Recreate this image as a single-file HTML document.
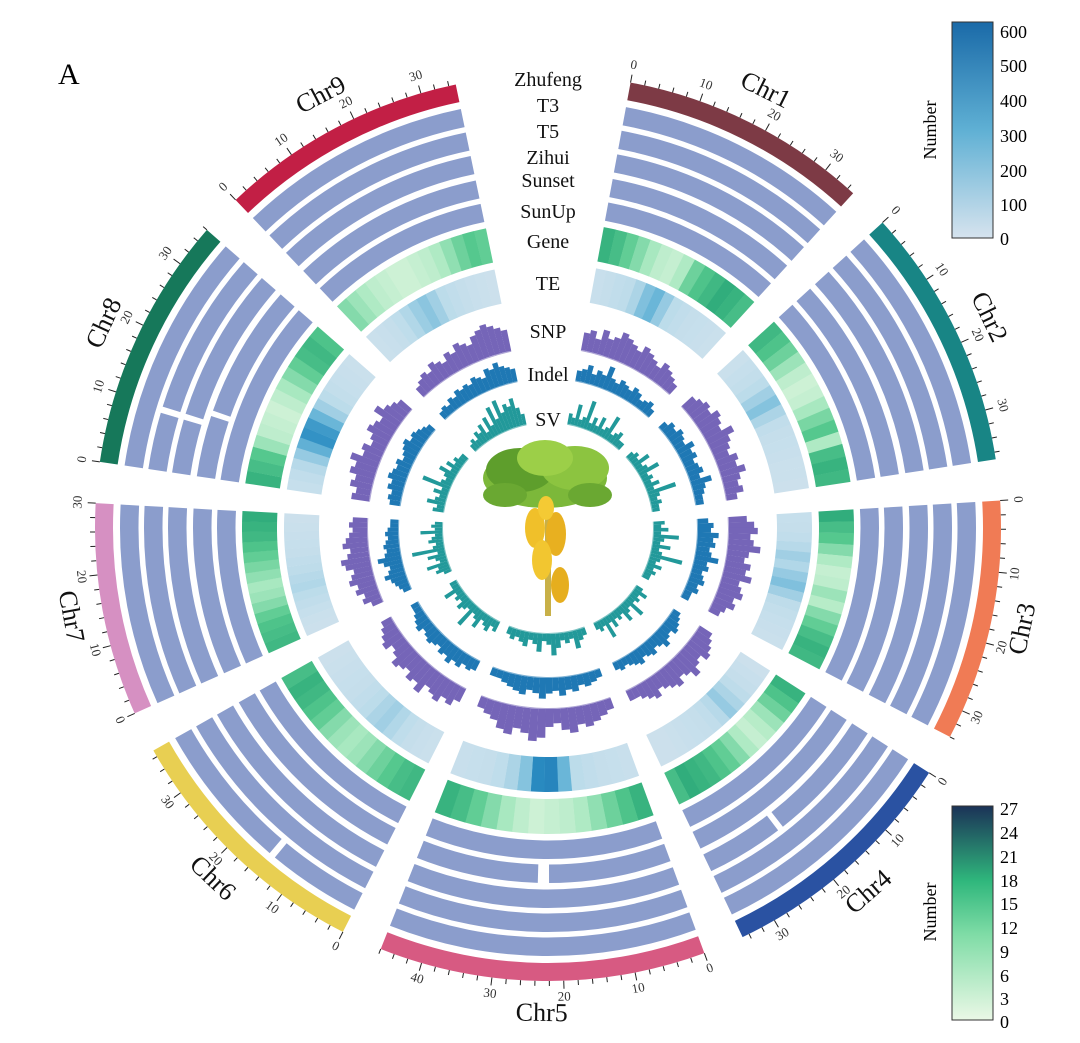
<!DOCTYPE html>
<html><head><meta charset="utf-8">
<style>
html,body{margin:0;padding:0;background:#fff;}
svg{display:block;font-family:"Liberation Serif",serif;}
</style></head>
<body>
<svg id="chart" width="1080" height="1043" viewBox="0 0 1080 1043" xmlns="http://www.w3.org/2000/svg">
<defs>
<linearGradient id="teGrad" x1="0" y1="1" x2="0" y2="0">
<stop offset="0" stop-color="#d6e3ee"/><stop offset="0.5" stop-color="#5fb0d4"/><stop offset="1" stop-color="#1a6aa8"/></linearGradient>
<linearGradient id="geneGrad" x1="0" y1="1" x2="0" y2="0">
<stop offset="0" stop-color="#eaf8e6"/><stop offset="0.4" stop-color="#7fdca6"/><stop offset="0.65" stop-color="#2fb77c"/><stop offset="1" stop-color="#1b3257"/></linearGradient>
</defs>
<text x="58" y="84" font-size="30">A</text>
<g id="rings"></g>
<g id="labels" font-size="20" text-anchor="middle" fill="#111">
<text x="548" y="86">Zhufeng</text>
<text x="548" y="112">T3</text>
<text x="548" y="138">T5</text>
<text x="548" y="164">Zihui</text>
<text x="548" y="187">Sunset</text>
<text x="548" y="218">SunUp</text>
<text x="548" y="248">Gene</text>
<text x="548" y="290">TE</text>
<text x="548" y="338">SNP</text>
<text x="548" y="381">Indel</text>
<text x="548" y="426">SV</text>
</g>
<g id="tree">
<rect x="545" y="490" width="6" height="126" fill="#c8b048"/>
<ellipse cx="545" cy="478" rx="62" ry="30" fill="#7cb83a"/>
<ellipse cx="520" cy="470" rx="34" ry="22" fill="#5e9e2c"/>
<ellipse cx="575" cy="468" rx="34" ry="22" fill="#8cc440"/>
<ellipse cx="545" cy="458" rx="28" ry="18" fill="#9ccf48"/>
<ellipse cx="505" cy="495" rx="22" ry="12" fill="#6aa832"/>
<ellipse cx="590" cy="495" rx="22" ry="12" fill="#6aa832"/>
<ellipse cx="535" cy="528" rx="10" ry="20" fill="#f0c02a"/>
<ellipse cx="556" cy="534" rx="10" ry="22" fill="#e8b020"/>
<ellipse cx="542" cy="560" rx="10" ry="20" fill="#f2c630"/>
<ellipse cx="560" cy="585" rx="9" ry="18" fill="#e6ae1e"/>
<ellipse cx="546" cy="508" rx="8" ry="12" fill="#f4ca34"/>
</g>
<g id="legend-te" font-size="18">
<rect x="952" y="22" width="41" height="216" fill="url(#teGrad)" stroke="#333" stroke-width="1"/>
<text x="1000" y="38">600</text><text x="1000" y="72">500</text><text x="1000" y="107">400</text>
<text x="1000" y="142">300</text><text x="1000" y="177">200</text><text x="1000" y="211">100</text><text x="1000" y="245">0</text>
<text transform="translate(936,130) rotate(-90)" text-anchor="middle">Number</text>
</g>
<g id="legend-gene" font-size="18">
<rect x="952" y="806" width="41" height="214" fill="url(#geneGrad)" stroke="#333" stroke-width="1"/>
<text x="1000" y="815">27</text><text x="1000" y="839">24</text><text x="1000" y="863">21</text>
<text x="1000" y="887">18</text><text x="1000" y="910">15</text><text x="1000" y="934">12</text>
<text x="1000" y="958">9</text><text x="1000" y="982">6</text><text x="1000" y="1005">3</text><text x="1000" y="1028">0</text>
<text transform="translate(936,912) rotate(-90)" text-anchor="middle">Number</text>
</g>
</svg>
<script>
const chrNames=["Chr1","Chr2","Chr3","Chr4","Chr5","Chr6","Chr7","Chr8","Chr9"];
const chrLengths=[35,37,34,35,46,37,30,36,35];
const chrColors=["#7d3a45","#188585","#f07b55","#2a52a2","#d75a82","#e8cf52","#d690c2","#16785a","#c21f45"];
const ringGaps=[[7,1,9,10],[7,2,9,10],[7,3,11,12],[4,3,22,24],[3,2,21,22],[5,0,14,15]];
const geneDensity=[
[20,18,15,12,9,6,5,8,14,17,19,21,20,18],
[19,17,14,10,6,4,5,9,13,16,8,18,20,19],
[21,18,16,12,8,5,6,10,7,12,15,18,20,19],
[20,17,14,10,7,5,8,12,15,17,19,20,21,18],
[20,17,14,11,8,6,5,4,6,9,12,15,18,20],
[19,18,16,14,12,10,9,10,12,15,17,19,20,18],
[19,18,17,15,12,10,9,11,13,15,17,19,20,21],
[20,18,16,10,6,5,4,6,9,12,15,18,19,17],
[12,10,8,6,5,4,4,5,6,8,11,14,16,15]];
const teDensity=[
[80,100,120,140,180,260,300,220,150,120,100,90,80,70],
[70,90,110,150,200,250,180,120,100,90,80,70,70,60],
[90,100,120,160,200,170,220,260,200,140,110,90,80,70],
[60,80,100,140,180,220,160,120,100,90,80,70,60,60],
[80,90,100,120,150,300,480,460,250,180,130,100,90,80],
[70,80,100,130,170,200,180,150,120,100,90,80,70,60],
[60,70,90,120,150,170,160,140,120,100,90,80,70,60],
[90,120,160,220,320,430,400,300,200,150,110,90,80,70],
[70,80,100,130,170,210,240,200,150,120,100,80,70,60]];
const snpValues=[
[.5,.6,.4,.7,.5,.6,.8,.7,.6,.5,.7,.6,.5,.4,.6,.5,.4,.3],
[.4,.5,.6,.5,.7,.6,.5,.8,.6,.5,.4,.6,.5,.7,.5,.4,.5,.3],
[.5,.7,.8,.6,.7,.9,.6,.5,.7,.6,.8,.5,.6,.7,.5,.6,.4,.3],
[.4,.5,.6,.7,.5,.6,.8,.6,.5,.7,.6,.5,.4,.6,.5,.4,.3,.3],
[.3,.4,.5,.6,.5,.7,.6,.4,.5,.8,.9,.7,.6,.8,.7,.5,.4,.3],
[.4,.6,.5,.7,.6,.5,.8,.6,.7,.5,.6,.7,.5,.4,.6,.5,.4,.3],
[.3,.5,.4,.6,.5,.7,.6,.5,.7,.8,.6,.5,.7,.6,.5,.4,.5,.4],
[.5,.4,.6,.5,.7,.6,.8,.5,.6,.4,.5,.7,.6,.5,.8,.6,.5,.4],
[.3,.4,.5,.4,.6,.5,.4,.6,.5,.7,.6,.5,.7,.8,.9,.8,.7,.6]];
const indelValues=[
[.4,.5,.7,.4,.6,.5,.9,.5,.4,.6,.5,.4,.6,.5,.3,.4,.5,.3],
[.3,.5,.4,.6,.5,.4,.7,.5,.6,.4,.5,.6,.4,.8,.5,.4,.3,.3],
[.4,.6,.5,.8,.6,.7,.5,.6,.9,.5,.6,.4,.5,.6,.4,.5,.3,.3],
[.3,.4,.5,.6,.4,.5,.7,.5,.4,.6,.5,.4,.6,.5,.4,.3,.4,.3],
[.3,.4,.5,.4,.6,.5,.7,.5,.6,.8,.6,.5,.7,.6,.5,.4,.3,.3],
[.4,.5,.4,.6,.5,.7,.5,.6,.4,.5,.6,.5,.4,.6,.5,.4,.3,.3],
[.3,.4,.5,.6,.8,.6,.5,.7,.9,.6,.5,.6,.5,.4,.5,.4,.3,.3],
[.4,.5,.4,.6,.5,.7,.6,.5,.6,.4,.5,.6,.7,.5,.6,.5,.4,.3],
[.3,.4,.3,.5,.4,.6,.5,.6,.5,.7,.6,.5,.8,.7,.9,.7,.6,.5]];
const svValues=[
[.3,.2,.6,.2,.3,.8,.2,.4,.2,.5,.2,.3,.7,.2,.3,.4,.2,.2],
[.2,.3,.2,.5,.2,.3,.6,.2,.3,.2,.4,.2,.8,.3,.2,.3,.2,.2],
[.3,.2,.4,.2,.7,.3,.2,.5,.2,.3,.9,.3,.2,.4,.2,.3,.2,.2],
[.2,.4,.2,.3,.2,.6,.2,.3,.5,.2,.3,.2,.4,.2,.6,.2,.3,.2],
[.2,.3,.5,.2,.3,.2,.4,.6,.3,.2,.5,.3,.2,.4,.3,.2,.3,.2],
[.3,.2,.4,.3,.2,.5,.3,.2,.7,.2,.3,.4,.2,.3,.2,.5,.2,.2],
[.2,.4,.3,.6,.2,.3,.5,.2,.9,.3,.2,.4,.3,.2,.6,.2,.3,.2],
[.3,.2,.5,.3,.2,.4,.2,.8,.3,.2,.3,.5,.2,.4,.2,.3,.2,.2],
[.2,.3,.2,.4,.3,.5,.2,.6,.3,.8,.4,.9,.5,.7,.6,.8,.5,.3]];

const NS="http://www.w3.org/2000/svg";
const cx=548, cy=528;
const startAngle=10.5, gapDeg=5.25, degPerMb=0.91;
const ringsG=document.getElementById('rings');
function pt(r,a){const t=a*Math.PI/180;return [cx+r*Math.sin(t),cy-r*Math.cos(t)];}
function sector(r0,r1,a0,a1){
  const p1=pt(r1,a0),p2=pt(r1,a1),p3=pt(r0,a1),p4=pt(r0,a0);const lg=(a1-a0)>180?1:0;
  return `M${p1[0]},${p1[1]}A${r1},${r1} 0 ${lg} 1 ${p2[0]},${p2[1]}L${p3[0]},${p3[1]}A${r0},${r0} 0 ${lg} 0 ${p4[0]},${p4[1]}Z`;}
function mk(tag,attrs,parent){const e=document.createElementNS(NS,tag);for(const k in attrs)e.setAttribute(k,attrs[k]);(parent||ringsG).appendChild(e);return e;}
function lerpColor(stops,v){
  for(let i=0;i<stops.length-1;i++){const [v0,c0]=stops[i],[v1,c1]=stops[i+1];
    if(v<=v1||i===stops.length-2){const t=Math.max(0,Math.min(1,(v-v0)/(v1-v0)));
      const a=c0.match(/\w\w/g).map(h=>parseInt(h,16)),b=c1.match(/\w\w/g).map(h=>parseInt(h,16));
      return 'rgb('+a.map((x,j)=>Math.round(x+(b[j]-x)*t)).join(',')+')';}}}
const geneStops=[[0,'eaf8e6'],[9,'a8e8c0'],[16,'55c88e'],[22,'2aa878'],[27,'1b3257']];
const teStops=[[0,'d6e3ee'],[150,'bcdcea'],[300,'6ab6d8'],[450,'2a8cc2'],[600,'1a6aa8']];
const ringOuter=[428,404,380,355,331], ringWidth=18.5;

let a=startAngle;
chrNames.forEach((name,ci)=>{
  const a0=a, a1=a+chrLengths[ci]*degPerMb; a=a1+gapDeg;
  const A=mb=>a0+mb*degPerMb;
  const ideo=mk('path',{d:sector(435,453,a0,a1),fill:chrColors[ci]});
  
  
  // ticks
  for(let m=0;m<=chrLengths[ci];m+=2){
    const major=m%10===0;const p=pt(453,A(m)),q=pt(major?461:458,A(m));
    const tk=mk('line',{x1:p[0],y1:p[1],x2:q[0],y2:q[1],stroke:'#222','stroke-width':1});
    
    
    if(major){const ang=A(m);const tp=pt(470,ang);const rot=(ang>90&&ang<270)?ang-180:ang;
      const tl=mk('text',{x:tp[0],y:tp[1],'font-size':13,'text-anchor':'middle','dominant-baseline':'middle',transform:`rotate(${rot},${tp[0]},${tp[1]})`,fill:'#333'});
      tl.textContent=m;
      
      }
  }
  const mid=(a0+a1)/2;const lp=pt(487,mid);const rot=(mid>90&&mid<270)?mid-180:mid;
  const lab=mk('text',{x:lp[0],y:lp[1],'font-size':26,'text-anchor':'middle','dominant-baseline':'middle',transform:`rotate(${rot},${lp[0]},${lp[1]})`,fill:'#111'});
  lab.textContent=name;
  
  
  // genome rings
  ringOuter.forEach((ro,ri)=>{
    const segs=[[0,chrLengths[ci]]];
    ringGaps.filter(g=>g[0]===ci&&g[1]===ri).forEach(g=>{const s=segs.pop();segs.push([s[0],g[2]],[g[3],s[1]]);});
    segs.forEach(s=>{const rp=mk('path',{d:sector(ro-ringWidth,ro,A(s[0]),A(s[1])),fill:'#8b9dcc'});
      
      });
  });
  // gene heatmap
  const gd=geneDensity[ci];const gw=chrLengths[ci]/gd.length;
  gd.forEach((v,i)=>{const c=mk('path',{d:sector(271,306,A(i*gw),A((i+1)*gw)+0.05),fill:lerpColor(geneStops,v)});
    
    });
  const td=teDensity[ci];const tw=chrLengths[ci]/td.length;
  td.forEach((v,i)=>{const c=mk('path',{d:sector(229,264,A(i*tw),A((i+1)*tw)+0.05),fill:lerpColor(teStops,v)});
    
    });
  // bar tracks
  [[snpValues,181,36,'#7565b8','snp-bar'],[indelValues,150,26,'#1f78b4','indel-bar'],[svValues,106,36,'#22999a','sv-bar']].forEach(([vals,base,hmax,col,nm])=>{
    const v=vals[ci];const w=chrLengths[ci]/v.length;
    const bl=mk('path',{d:sector(base-1,base,A(0),A(chrLengths[ci])),fill:col,opacity:0.6});
    
    
    v.forEach((h,i)=>{const b=mk('path',{d:sector(base,base+h*hmax,A(i*w),A((i+1)*w)+0.03),fill:col});
      
      });
  });
});
</script>
</body></html>
